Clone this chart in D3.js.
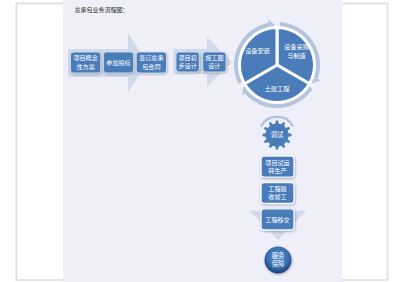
<!DOCTYPE html>
<html>
<head>
<meta charset="utf-8">
<script src="https://cdn.jsdelivr.net/npm/d3@7"></script>
<style>
  html, body { margin: 0; padding: 0; background: #fff; }
  svg { display: block; font-family: "Noto Sans CJK SC", "Noto Sans", sans-serif; }
</style>
</head>
<body>
<div id="chart"></div>
<script>
// Labels of the flow steps (each entry = lines of text)
var title = "总承包业务流程图：";
var stageOne = [["项目概念", "性方案"], ["参加投标"], ["签订总承", "包合同"]];
var stageTwo = [["项目初", "步设计"], ["施工图", "设计"]];
var cycleSteps = [["设备采购", "与制造"], ["土建工程"], ["设备安装"]];
var cycleWeights = [1, 1, 1];
var gearLabel = "调试";
var stageDown = [["项目试运", "转生产"], ["工程验", "收竣工"], ["工程移交"]];
var finalLabel = ["服务", "保障"];

var width = 393, height = 282;
var boxFill = "#4b7cba", arrowFill = "#d0daea", ringFill = "#b4c4de";

var svg = d3.select("#chart").append("svg")
    .attr("width", width)
    .attr("height", height);

var defs = svg.append("defs");
var shadow = defs.append("filter").attr("id", "shadow")
    .attr("x", "-20%").attr("y", "-20%").attr("width", "140%").attr("height", "150%");
shadow.append("feDropShadow").attr("dx", 0.6).attr("dy", 1)
    .attr("stdDeviation", 0.8).attr("flood-color", "#6a7080").attr("flood-opacity", 0.55);

var ball = defs.append("radialGradient").attr("id", "ball")
    .attr("cx", "50%").attr("cy", "40%").attr("r", "60%");
ball.append("stop").attr("offset", "0%").attr("stop-color", "#5a90d0");
ball.append("stop").attr("offset", "65%").attr("stop-color", "#3a6eb0");
ball.append("stop").attr("offset", "100%").attr("stop-color", "#173f7a");

// Frame and panel
svg.append("rect").attr("x", 16.5).attr("y", 3.5).attr("width", 371).attr("height", 276.5)
    .attr("fill", "#fff").attr("stroke", "#e2e2e8").attr("stroke-width", 2);
svg.append("rect").attr("x", 63).attr("y", 0).attr("width", 279).attr("height", height)
    .attr("fill", "#efeff9");

svg.append("text").attr("x", 74.5).attr("y", 11.5)
    .attr("font-size", 6).attr("fill", "#333").text(title);

function drawLabel(g, lines, cx, cy, size, lh) {
    var t = g.append("text").attr("text-anchor", "middle")
        .attr("font-size", size).attr("fill", "#fff");
    lines.forEach(function(l, i) {
        t.append("tspan").attr("x", cx)
         .attr("y", cy + (i - (lines.length - 1) / 2) * lh + size * 0.36)
         .text(l);
    });
}

function drawBoxes(labels, x, y, horizontal, stroke) {
    var g = svg.append("g");
    labels.forEach(function(lines, i) {
        var bx = horizontal ? x(i) : x.range()[0];
        var by = horizontal ? y.range()[0] : y(i);
        var bw = horizontal ? x.bandwidth() : x.range()[1] - x.range()[0];
        var bh = horizontal ? y.range()[1] - y.range()[0] : y.bandwidth();
        g.append("rect").attr("x", bx).attr("y", by).attr("width", bw).attr("height", bh)
            .attr("rx", 3).attr("fill", boxFill)
            .attr("stroke", stroke).attr("stroke-width", horizontal ? 0.8 : 1.4)
            .attr("filter", "url(#shadow)");
        drawLabel(g, lines, bx + bw / 2, by + bh / 2, 6.1, 8.4);
    });
}

// Horizontal arrows with boxes
function rightArrow(x, yBody, yHead, tipX, headX) {
    var x0 = x.range()[0] - 2.5;
    var mid = (yHead[0] + yHead[1]) / 2;
    var pts = [[x0, yBody[0]], [headX, yBody[0]], [headX, yHead[0]], [tipX, mid],
               [headX, yHead[1]], [headX, yBody[1]], [x0, yBody[1]]];
    svg.append("path").attr("d", d3.line()(pts) + "Z").attr("fill", arrowFill);
}

var x1 = d3.scaleBand().domain(d3.range(stageOne.length)).range([70.5, 166.5]).paddingInner(0.08);
var y1 = d3.scaleLinear().range([52, 73]);
var x2 = d3.scaleBand().domain(d3.range(stageTwo.length)).range([176, 226]).paddingInner(0.13);
var y2 = d3.scaleLinear().range([52, 72]);

rightArrow(x1, [49, 77], [33, 92], 147, 128);
rightArrow(x2, [49, 74], [37, 87], 232, 207);
drawBoxes(stageOne, x1, y1, true, "#dfe7f3");
drawBoxes(stageTwo, x2, y2, true, "#dfe7f3");

// Cycle (pie with ring arrows)
var cx = 277, cy = 65, rPie = 37.5;
var cyc = svg.append("g").attr("transform", "translate(" + cx + "," + cy + ")");
var pie = d3.pie().sort(null).value(function(d) { return d; })(cycleWeights);
var ringArc = d3.arc().innerRadius(rPie - 2).outerRadius(rPie + 5.5);
var deg = Math.PI / 180;
pie.forEach(function(p) {
    var a0 = p.startAngle + 4 * deg, a1 = p.endAngle - 11 * deg;
    cyc.append("path").attr("d", ringArc({startAngle: a0, endAngle: a1})).attr("fill", ringFill);
    var rIn = rPie - 4, rOut = rPie + 9, rMid = rPie + 2.5, tip = a1 + 8 * deg;
    var pt = function(r, a) { return [r * Math.sin(a), -r * Math.cos(a)]; };
    cyc.append("path").attr("d", d3.line()([pt(rIn, a1), pt(rOut, a1), pt(rMid, tip)]) + "Z")
        .attr("fill", ringFill);
});
var pieArc = d3.arc().innerRadius(0).outerRadius(rPie);
cyc.selectAll("path.slice").data(pie).enter().append("path")
    .attr("class", "slice")
    .attr("d", pieArc)
    .attr("fill", boxFill)
    .attr("stroke", "#fff").attr("stroke-width", 3).attr("stroke-linejoin", "round");
var labelArc = d3.arc().innerRadius(rPie * 0.6).outerRadius(rPie * 0.6);
pie.forEach(function(p, i) {
    var c = labelArc.centroid(p);
    var dy = c[1] < 0 ? -2.5 : 1;
    drawLabel(cyc, cycleSteps[i], c[0], c[1] + dy, 6.2, 8.6);
});

// Gear
var gx = 277, gy = 135;
var gearG = svg.append("g").attr("transform", "translate(" + gx + "," + gy + ")");
gearG.append("path")
    .attr("d", d3.arc()({innerRadius: 17, outerRadius: 19.5, startAngle: -62 * deg, endAngle: 62 * deg}))
    .attr("fill", ringFill);
var teeth = 12, gearPts = [];
d3.range(teeth).forEach(function(i) {
    var a = i * 2 * Math.PI / teeth;
    var w = Math.PI / teeth;
    [[a - w * 0.55, 11.5], [a - w * 0.3, 14.5], [a + w * 0.3, 14.5], [a + w * 0.55, 11.5]].forEach(function(q) {
        gearPts.push([q[1] * Math.sin(q[0]), -q[1] * Math.cos(q[0])]);
    });
});
gearG.append("path").attr("d", d3.line()(gearPts) + "Z").attr("fill", boxFill);
drawLabel(gearG, [gearLabel], 0, 0, 6.3, 8);

// Down arrow with boxes
var xv = d3.scaleLinear().range([261, 294]);
var yv = d3.scaleBand().domain(d3.range(stageDown.length)).range([156, 230]).paddingInner(0.2);
var headTop = yv(stageDown.length - 1) + 2;
svg.append("path")
    .attr("d", d3.line()([[250, headTop], [306, headTop], [278, 240]]) + "Z")
    .attr("fill", arrowFill);
drawBoxes(stageDown, xv, yv, false, "#f4f6fb");

// Final circle
var fg = svg.append("g").attr("transform", "translate(278,260)");
fg.append("circle").attr("r", 13.5).attr("fill", "url(#ball)").attr("filter", "url(#shadow)");
drawLabel(fg, finalLabel, 0, 0, 6.3, 8.4);
</script>
</body>
</html>
